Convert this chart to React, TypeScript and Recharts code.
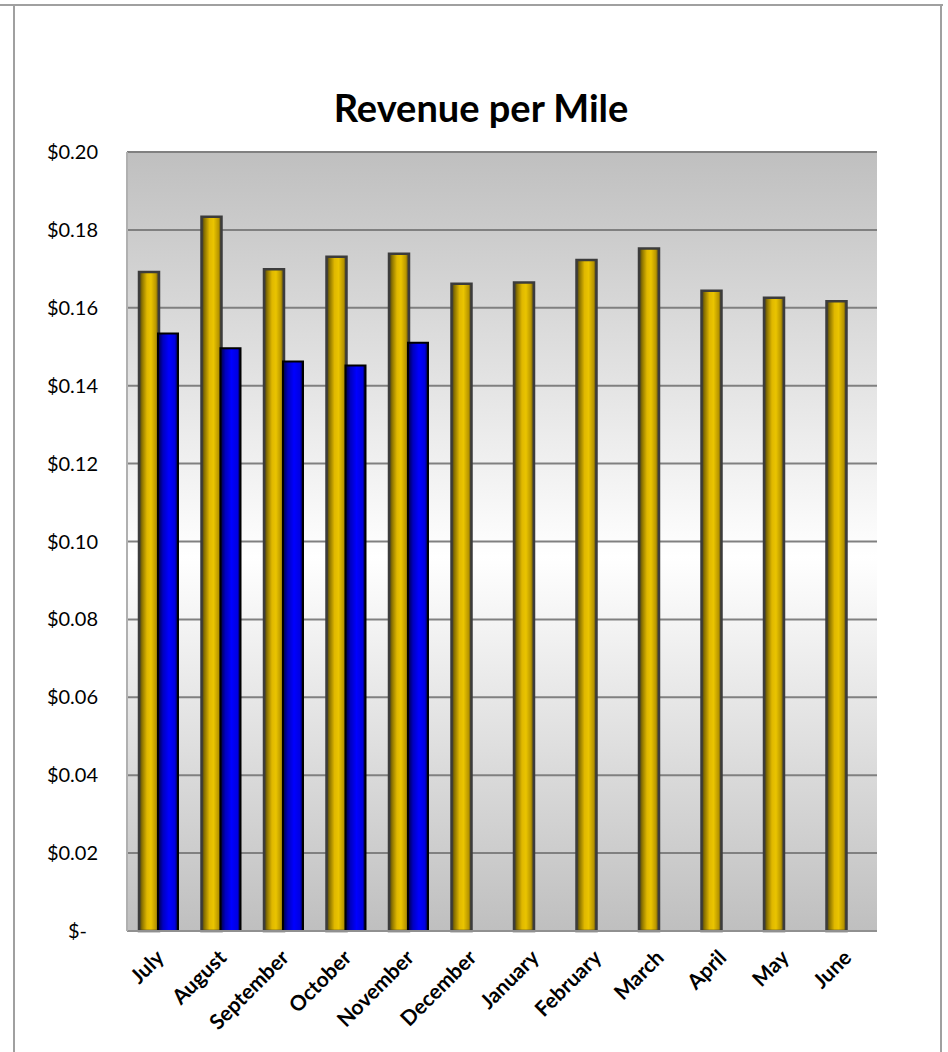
import { Bar, BarChart, CartesianGrid, XAxis, YAxis } from "recharts";

const months = [
  "July", "August", "September", "October", "November", "December",
  "January", "February", "March", "April", "May", "June",
];
const priorYear = [0.1692, 0.1834, 0.1699, 0.1731, 0.1739, 0.1662, 0.1665, 0.1723, 0.1752, 0.1644, 0.1626, 0.1617];
const currentYear: (number | null)[] = [0.1534, 0.1496, 0.1462, 0.1452, 0.151, null, null, null, null, null, null, null];
const yTicks = [0, 0.02, 0.04, 0.06, 0.08, 0.1, 0.12, 0.14, 0.16, 0.18, 0.2];

const data = months.map((m, i) => ({ month: m, prior: priorYear[i], current: currentYear[i] }));

const FONT = "Lato, 'Open Sans', sans-serif";

function YTick({ x, y, payload }: any) {
  const v = payload.value as number;
  const label = v === 0 ? "$-" : `$${v.toFixed(2)}`;
  return (
    <text x={x} y={y} dx={v === 0 ? -11 : 0} dy={7} textAnchor="end" fontSize={20} fill="#000" fontFamily={FONT}>
      {label}
    </text>
  );
}

function XTick({ x, y, payload }: any) {
  return (
    <g transform={`translate(${x + 7},${y + 20})`}>
      <text textAnchor="end" transform="rotate(-45)" fontSize={21} fontWeight="bold" fill="#000" fontFamily={FONT}>
        {payload.value}
      </text>
    </g>
  );
}

export default function App() {
  return (
    <div style={{ position: "absolute", left: 0, top: 0, width: 948, height: 1052, background: "#fff" }}>
      <div style={{ position: "absolute", left: 0, top: 4, width: 943, height: 2, background: "#a0a0a0" }} />
      <div style={{ position: "absolute", left: 13, top: 4, width: 2, height: 1048, background: "#a0a0a0" }} />
      <div style={{ position: "absolute", left: 940, top: 4, width: 2, height: 1048, background: "#a0a0a0" }} />
      <div
        style={{
          position: "absolute",
          left: 0,
          top: 85,
          width: 962,
          textAlign: "center",
          fontFamily: FONT,
          fontWeight: "bold",
          fontSize: 38,
          lineHeight: "44px",
        }}
      >
        Revenue per Mile
      </div>
      <BarChart
        width={948}
        height={1052}
        data={data}
        margin={{ top: 152, right: 71, left: 0, bottom: 0 }}
        barSize={20}
        barGap={-1}
        style={{ position: "absolute", left: 0, top: 0 }}
      >
        <defs>
          <linearGradient id="plotBg" x1="0" y1="0" x2="0" y2="1">
            <stop offset="0%" stopColor="#bfbfbf" />
            <stop offset="52%" stopColor="#ffffff" />
            <stop offset="100%" stopColor="#bfbfbf" />
          </linearGradient>
          <linearGradient id="gold" x1="0" y1="0" x2="1" y2="0">
            <stop offset="0%" stopColor="#3a3520" />
            <stop offset="15%" stopColor="#8a7200" />
            <stop offset="40%" stopColor="#e0b800" />
            <stop offset="60%" stopColor="#eac400" />
            <stop offset="85%" stopColor="#b89600" />
            <stop offset="100%" stopColor="#3a3520" />
          </linearGradient>
          <linearGradient id="blue" x1="0" y1="0" x2="1" y2="0">
            <stop offset="0%" stopColor="#000040" />
            <stop offset="25%" stopColor="#0000c0" />
            <stop offset="55%" stopColor="#0000ff" />
            <stop offset="85%" stopColor="#0000e0" />
            <stop offset="100%" stopColor="#000020" />
          </linearGradient>
        </defs>
        <CartesianGrid
          vertical={false}
          stroke="#808080"
          strokeWidth={2}
          fill="url(#plotBg)"
          fillOpacity={1}
        />
        <XAxis
          dataKey="month"
          height={121}
          interval={0}
          tickLine={false}
          axisLine={{ stroke: "#909090", strokeWidth: 2 }}
          tick={<XTick />}
        />
        <YAxis
          width={127}
          domain={[0, 0.2]}
          ticks={yTicks}
          tickLine={false}
          tickSize={0}
          tickMargin={29}
          axisLine={{ stroke: "#b0b0b0", strokeWidth: 2 }}
          tick={<YTick />}
        />
        <Bar dataKey="prior" fill="url(#gold)" stroke="#3c3c3c" strokeWidth={2.5} isAnimationActive={false} />
        <Bar dataKey="current" fill="url(#blue)" stroke="#000" strokeWidth={2} isAnimationActive={false} />
      </BarChart>
    </div>
  );
}
